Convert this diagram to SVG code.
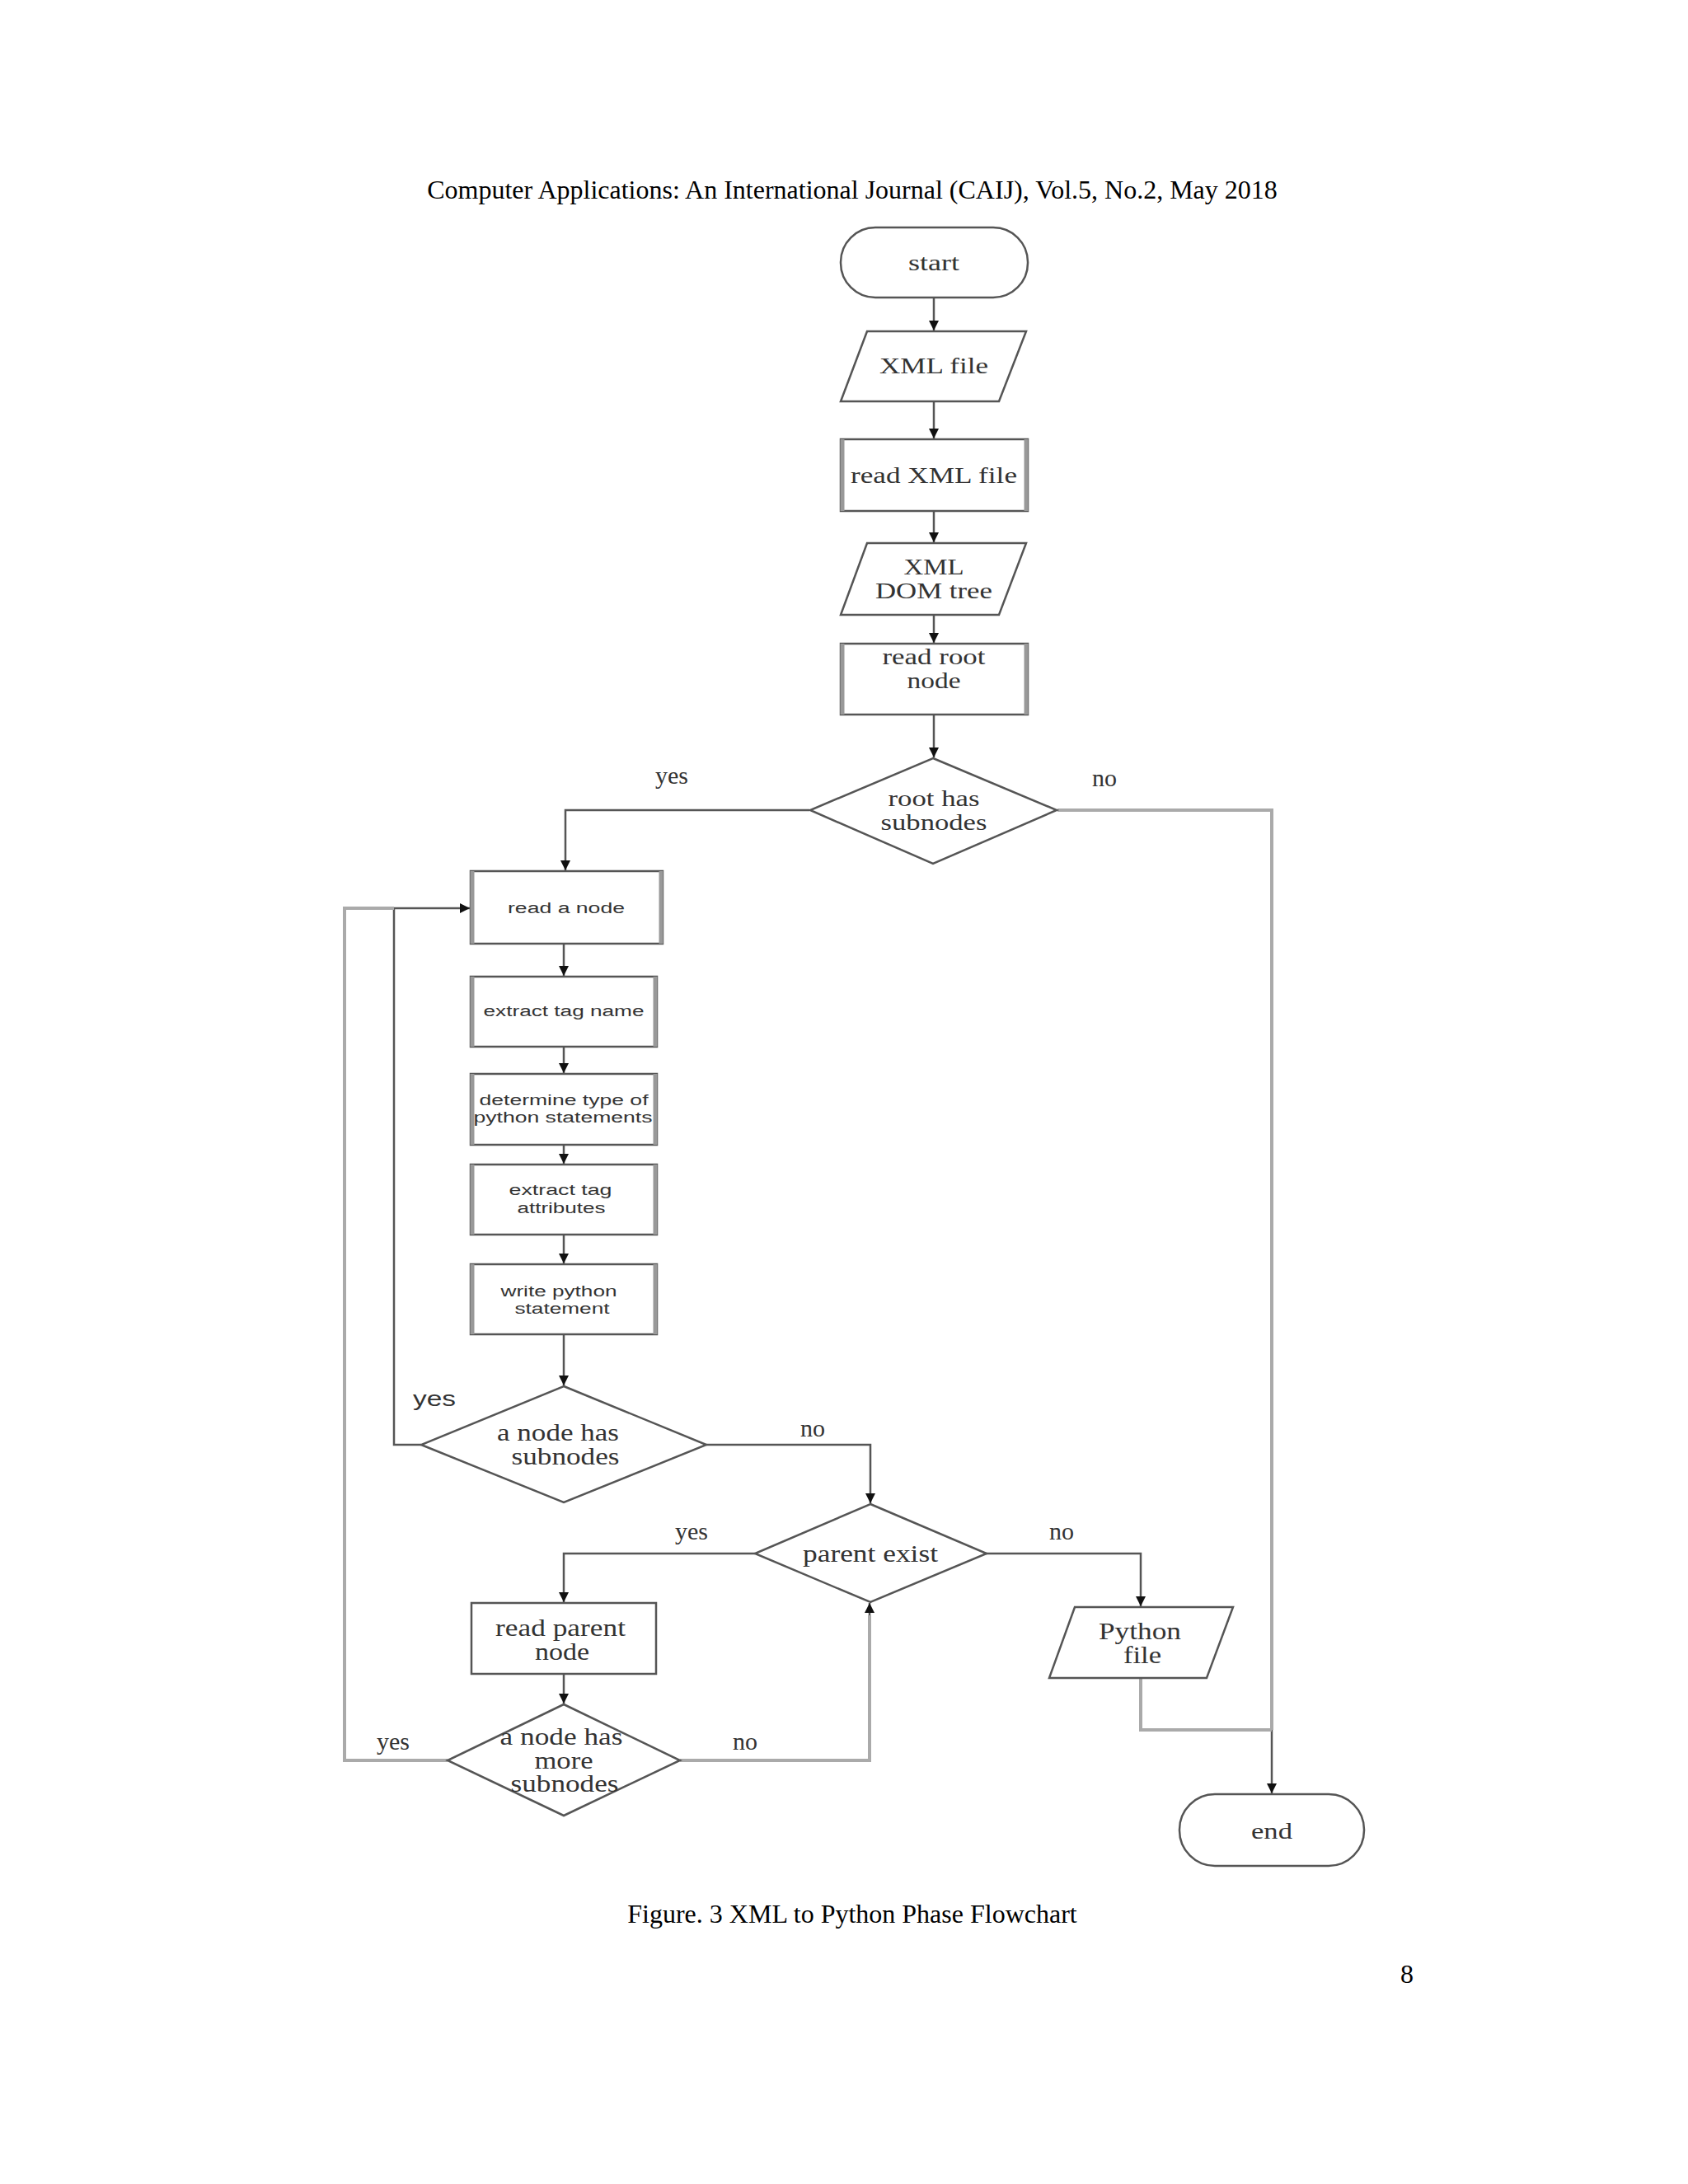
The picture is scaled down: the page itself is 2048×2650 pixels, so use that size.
<svg xmlns="http://www.w3.org/2000/svg" width="2048" height="2650" viewBox="0 0 2048 2650">
<style>
.bg{fill:#fff}
.shape{fill:#fff;stroke:#555;stroke-width:2.5}
.side{stroke:#999;stroke-width:5}
.line{fill:none;stroke:#555;stroke-width:2.5}
.light{fill:none;stroke:#aaa;stroke-width:4}
.serif{font-family:"Liberation Serif","Times New Roman",serif;fill:#333;text-anchor:middle;dominant-baseline:central}
.n{font-size:28px}
.m{font-size:29px}
.sans{font-family:"Liberation Sans",Arial,sans-serif;fill:#333;text-anchor:middle;dominant-baseline:central;font-size:18px}
.lab{font-family:"Liberation Serif","Times New Roman",serif;fill:#333;text-anchor:middle;dominant-baseline:central;font-size:30px}
.page{font-family:"Liberation Serif","Times New Roman",serif;fill:#000;font-size:32px}
</style>
<defs>
<marker id="ah" viewBox="0 0 10 10" refX="10" refY="5" markerWidth="12" markerHeight="12" markerUnits="userSpaceOnUse" orient="auto">
<path d="M0,0 L10,5 L0,10 z" fill="#111"/>
</marker>
</defs>
<rect class="bg" x="0" y="0" width="2048" height="2650"/>
<text class="page" x="1034" y="241" text-anchor="middle">Computer Applications: An International Journal (CAIJ), Vol.5, No.2, May 2018</text>

<g id="connectors">
<path class="line" d="M1133,361 V401" marker-end="url(#ah)"/>
<path class="line" d="M1133,487 V532" marker-end="url(#ah)"/>
<path class="line" d="M1133,620 V658" marker-end="url(#ah)"/>
<path class="line" d="M1133,746 V780" marker-end="url(#ah)"/>
<path class="line" d="M1133,867 V919" marker-end="url(#ah)"/>
<path class="line" d="M982,983 H686 V1056" marker-end="url(#ah)"/>
<path class="light" d="M1283,983 H1543 V2099"/>
<path class="line" d="M1543,2099 V2176" stroke-width="3.5" marker-end="url(#ah)"/>
<path class="line" d="M684,1145 V1184" stroke-width="5" marker-end="url(#ah)"/>
<path class="line" d="M684,1270 V1302" marker-end="url(#ah)"/>
<path class="line" d="M684,1389 V1412" marker-end="url(#ah)"/>
<path class="line" d="M684,1498 V1533" marker-end="url(#ah)"/>
<path class="line" d="M684,1619 V1681" marker-end="url(#ah)"/>
<path class="line" d="M511,1753 H478 V1102 H570" marker-end="url(#ah)"/>
<path class="line" d="M857,1753 H1056 V1824" marker-end="url(#ah)"/>
<path class="line" d="M916,1885 H684 V1944" marker-end="url(#ah)"/>
<path class="line" d="M1196,1885 H1384 V1949" marker-end="url(#ah)"/>
<path class="line" d="M684,2031 V2067" marker-end="url(#ah)"/>
<path class="light" d="M543,2136 H418 V1102 H478"/>
<path class="light" d="M825,2136 H1055 V1960"/>
<path class="line" d="M1055,1960 V1945" marker-end="url(#ah)"/>
<path class="light" d="M1384,2036 V2099 H1543"/>
</g>

<g id="start">
<rect class="shape" x="1020" y="276" width="227" height="85" rx="42" ry="42"/>
<text class="serif n" x="1133" y="318" textLength="62" lengthAdjust="spacingAndGlyphs">start</text>
</g>
<g id="xml-file">
<polygon class="shape" points="1052,402 1245,402 1212,487 1020,487"/>
<text class="serif n" x="1133" y="443" textLength="132" lengthAdjust="spacingAndGlyphs">XML file</text>
</g>
<g id="read-xml-file">
<rect class="shape" x="1020" y="533" width="227" height="87"/>
<line class="side" x1="1022" y1="533" x2="1022" y2="620"/><line class="side" x1="1245" y1="533" x2="1245" y2="620"/>
<text class="serif n" x="1133" y="576" textLength="202" lengthAdjust="spacingAndGlyphs">read XML file</text>
</g>
<g id="xml-dom-tree">
<polygon class="shape" points="1052,659 1245,659 1212,746 1020,746"/>
<text class="serif n" x="1133" y="687" textLength="73" lengthAdjust="spacingAndGlyphs">XML</text>
<text class="serif n" x="1133" y="716" textLength="142" lengthAdjust="spacingAndGlyphs">DOM tree</text>
</g>
<g id="read-root-node">
<rect class="shape" x="1020" y="781" width="227" height="86"/>
<line class="side" x1="1022" y1="781" x2="1022" y2="867"/><line class="side" x1="1245" y1="781" x2="1245" y2="867"/>
<text class="serif n" x="1133" y="796" textLength="125" lengthAdjust="spacingAndGlyphs">read root</text>
<text class="serif n" x="1133" y="825" textLength="65" lengthAdjust="spacingAndGlyphs">node</text>
</g>
<g id="root-has-subnodes">
<polygon class="shape" points="1132,920 1282,983 1132,1048 983,983"/>
<text class="serif n" x="1133" y="968" textLength="111" lengthAdjust="spacingAndGlyphs">root has</text>
<text class="serif n" x="1133" y="997" textLength="129" lengthAdjust="spacingAndGlyphs">subnodes</text>
</g>
<text class="lab" x="815" y="940">yes</text>
<text class="lab" x="1340" y="943">no</text>

<g id="read-a-node">
<rect class="shape" x="571" y="1057" width="233" height="88"/>
<line class="side" x1="573" y1="1057" x2="573" y2="1145"/><line class="side" x1="802" y1="1057" x2="802" y2="1145"/>
<text class="sans" x="687" y="1102" textLength="142" lengthAdjust="spacingAndGlyphs">read a node</text>
</g>
<g id="extract-tag-name">
<rect class="shape" x="571" y="1185" width="226" height="85"/>
<line class="side" x1="573" y1="1185" x2="573" y2="1270"/><line class="side" x1="795" y1="1185" x2="795" y2="1270"/>
<text class="sans" x="684" y="1227" textLength="195" lengthAdjust="spacingAndGlyphs">extract tag name</text>
</g>
<g id="determine-type">
<rect class="shape" x="571" y="1303" width="226" height="86"/>
<line class="side" x1="573" y1="1303" x2="573" y2="1389"/><line class="side" x1="795" y1="1303" x2="795" y2="1389"/>
<text class="sans" x="684" y="1335" textLength="205" lengthAdjust="spacingAndGlyphs">determine type of</text>
<text class="sans" x="683" y="1356" textLength="217" lengthAdjust="spacingAndGlyphs">python statements</text>
</g>
<g id="extract-tag-attributes">
<rect class="shape" x="571" y="1413" width="226" height="85"/>
<line class="side" x1="573" y1="1413" x2="573" y2="1498"/><line class="side" x1="795" y1="1413" x2="795" y2="1498"/>
<text class="sans" x="680" y="1444" textLength="125" lengthAdjust="spacingAndGlyphs">extract tag</text>
<text class="sans" x="681" y="1466" textLength="107" lengthAdjust="spacingAndGlyphs">attributes</text>
</g>
<g id="write-python-statement">
<rect class="shape" x="571" y="1534" width="226" height="85"/>
<line class="side" x1="573" y1="1534" x2="573" y2="1619"/><line class="side" x1="795" y1="1534" x2="795" y2="1619"/>
<text class="sans" x="678" y="1567" textLength="141" lengthAdjust="spacingAndGlyphs">write python</text>
<text class="sans" x="682" y="1588" textLength="115" lengthAdjust="spacingAndGlyphs">statement</text>
</g>
<g id="a-node-has-subnodes">
<polygon class="shape" points="684,1682 857,1753 684,1823 511,1753"/>
<text class="serif m" x="677" y="1738" textLength="148" lengthAdjust="spacingAndGlyphs">a node has</text>
<text class="serif m" x="686" y="1767" textLength="131" lengthAdjust="spacingAndGlyphs">subnodes</text>
</g>
<text x="527" y="1697" font-family="Liberation Sans,Arial,sans-serif" font-size="26" fill="#333" text-anchor="middle" dominant-baseline="central" textLength="52" lengthAdjust="spacingAndGlyphs">yes</text>
<text class="lab" x="986" y="1732">no</text>

<g id="parent-exist">
<polygon class="shape" points="1056,1825 1197,1885 1056,1944 916,1885"/>
<text class="serif m" x="1056" y="1885" textLength="164" lengthAdjust="spacingAndGlyphs">parent exist</text>
</g>
<text class="lab" x="839" y="1857">yes</text>
<text class="lab" x="1288" y="1857">no</text>

<g id="read-parent-node">
<rect class="shape" x="572" y="1945" width="224" height="86"/>
<text class="serif m" x="680" y="1975" textLength="158" lengthAdjust="spacingAndGlyphs">read parent</text>
<text class="serif m" x="682" y="2004" textLength="66" lengthAdjust="spacingAndGlyphs">node</text>
</g>
<g id="a-node-has-more-subnodes">
<polygon class="shape" points="684,2068 825,2136 684,2203 543,2136"/>
<text class="serif m" x="681" y="2107" textLength="149" lengthAdjust="spacingAndGlyphs">a node has</text>
<text class="serif m" x="684" y="2136" textLength="71" lengthAdjust="spacingAndGlyphs">more</text>
<text class="serif m" x="685" y="2164" textLength="131" lengthAdjust="spacingAndGlyphs">subnodes</text>
</g>
<text class="lab" x="477" y="2112" fill="#888">yes</text>
<text class="lab" x="904" y="2112">no</text>

<g id="python-file">
<polygon class="shape" points="1304,1950 1496,1950 1464,2036 1273,2036"/>
<text class="serif m" x="1383" y="1979" textLength="100" lengthAdjust="spacingAndGlyphs">Python</text>
<text class="serif m" x="1386" y="2008" textLength="46" lengthAdjust="spacingAndGlyphs">file</text>
</g>
<g id="end">
<rect class="shape" x="1431" y="2177" width="224" height="87" rx="43" ry="43"/>
<text class="serif n" x="1543" y="2221" textLength="50" lengthAdjust="spacingAndGlyphs">end</text>
</g>

<text class="page" x="1034" y="2333" text-anchor="middle">Figure. 3 XML to Python Phase Flowchart</text>
<text class="page" x="1707" y="2406" text-anchor="middle">8</text>
</svg>
